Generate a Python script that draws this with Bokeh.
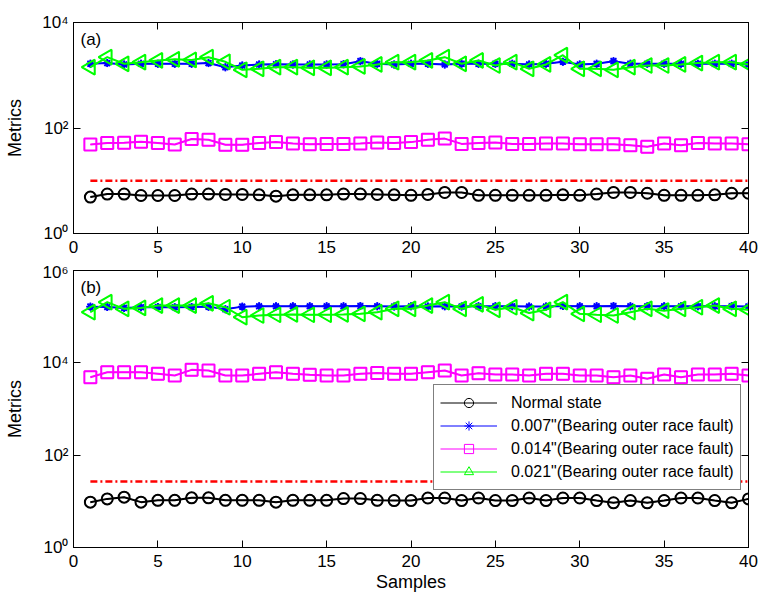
import numpy as np
from bokeh.plotting import figure
from bokeh.models import (FixedTicker, LinearAxis, LogAxis,
                          CustomJSTickFormatter, Legend, LegendItem, Label, Range1d)
from bokeh.layouts import column
from bokeh.embed import file_html
from bokeh.resources import INLINE

# ---------------- data ----------------
samples = list(range(1, 41))

normal_a = [4.9, 5.6, 5.6, 5.25, 5.25, 5.25, 5.6, 5.6, 5.5, 5.5,
            5.4, 5.1, 5.4, 5.4, 5.4, 5.6, 5.6, 5.5, 5.4, 5.3,
            5.5, 6.0, 6.0, 5.3, 5.3, 5.3, 5.3, 5.3, 5.4, 5.3,
            5.6, 6.0, 6.0, 5.8, 5.3, 5.3, 5.3, 5.4, 5.8, 5.8]
fault007_a = [1650, 1700, 1600, 1650, 1650, 1650, 1650, 1700, 1420, 1530,
              1600, 1620, 1600, 1600, 1600, 1620, 1850, 1650, 1600, 1650,
              1650, 1600, 1650, 1650, 1650, 1650, 1600, 1650, 1800, 1600,
              1650, 1850, 1650, 1650, 1650, 1650, 1650, 1650, 1650, 1600]
fault014_a = [48.6, 52, 52.6, 55, 52, 48.6, 62, 60, 48, 48,
              52, 54, 51, 49, 50, 50, 51, 53, 52, 54,
              60, 63, 50, 52, 53, 50, 50, 51, 51, 49,
              49, 49, 47, 44, 51, 47, 52, 51, 51, 49]
fault021_a = [1420, 2200, 1650, 1770, 1905, 2000, 1950, 2200, 1800, 1270,
              1325, 1420, 1420, 1380, 1380, 1420, 1470, 1600, 1770, 1770,
              1905, 2200, 1650, 1905, 1530, 1770, 1325, 1600, 2400, 1325,
              1325, 1270, 1420, 1530, 1530, 1600, 1700, 1770, 1770, 1600]

normal_b = [9.6, 11.3, 12.3, 9.6, 10.5, 10.5, 11.9, 11.9, 10.5, 10.5,
            10.5, 9.6, 10.5, 10.5, 10.5, 11.5, 11.5, 10.5, 10.4, 10.4,
            11.8, 11.8, 10.4, 11.8, 10.4, 10.4, 11.8, 10.4, 11.8, 11.8,
            10.4, 9.3, 10.4, 9.3, 10.4, 11.8, 11.8, 10.4, 9.3, 11.3]
fault007_b = [1.65e5, 1.62e5, 1.55e5, 1.60e5, 1.62e5, 1.60e5, 1.62e5, 1.65e5, 1.45e5, 1.65e5,
              1.68e5, 1.68e5, 1.68e5, 1.68e5, 1.68e5, 1.68e5, 1.70e5, 1.68e5, 1.66e5, 1.68e5,
              1.66e5, 1.68e5, 1.66e5, 1.68e5, 1.68e5, 1.68e5, 1.66e5, 1.66e5, 1.70e5, 1.68e5,
              1.68e5, 1.70e5, 1.68e5, 1.68e5, 1.68e5, 1.68e5, 1.68e5, 1.68e5, 1.68e5, 1.66e5]
fault014_b = [4890, 6270, 6270, 6270, 5770, 5310, 7050, 6800, 5310, 5310,
              5770, 6270, 5770, 5500, 5310, 5310, 5770, 6000, 5770, 5770,
              6270, 6800, 5310, 5980, 5610, 5610, 5310, 5770, 5770, 5310,
              5310, 4890, 5310, 4520, 5610, 4890, 5610, 5610, 5770, 5310]
fault021_b = [1.25e5, 2.06e5, 1.48e5, 1.55e5, 1.74e5, 1.74e5, 1.74e5, 1.95e5, 1.60e5, 0.975e5,
              1.06e5, 1.10e5, 1.12e5, 1.10e5, 1.10e5, 1.12e5, 1.15e5, 1.25e5, 1.48e5, 1.48e5,
              1.74e5, 2.06e5, 1.48e5, 1.85e5, 1.41e5, 1.60e5, 1.20e5, 1.41e5, 2.06e5, 1.15e5,
              1.10e5, 1.06e5, 1.25e5, 1.48e5, 1.35e5, 1.48e5, 1.60e5, 1.74e5, 1.48e5, 1.41e5]

thr_x = [1, 40]
thr_a = [10, 10]
thr_b = [27, 27]

x_ticks = [0, 5, 10, 15, 20, 25, 30, 35, 40]
y_ticks_a = [1, 100, 10000]
y_ticks_b = [1, 100, 10000, 1000000]
y_range_a = (1, 1e4)
y_range_b = (1, 1e6)

labels = ["Normal state",
          '0.007"(Bearing outer race fault)',
          '0.014"(Bearing outer race fault)',
          '0.021"(Bearing outer race fault)']

# ---------------- style ----------------
FONT = "Liberation Sans"
COLORS = ["black", "#0000ff", "#ff00ff", "#00ff00"]
MARKERS = ["circle", "asterisk", "square", "triangle"]
SIZES = [11, 8, 12, 15]
ANGLES = [0, 0, 0, np.pi / 2]

sup_js = """
const sup = {'0':'\u2070','1':'\u00b9','2':'\u00b2','3':'\u00b3','4':'\u2074','5':'\u2075','6':'\u2076','-':'\u207b'};
const e = Math.round(Math.log10(tick));
return '10' + String(e).split('').map(c => sup[c]).join('');
"""


def style_axis(ax, labels_visible=True):
    ax.axis_line_color = "black"
    ax.major_tick_line_color = "black"
    ax.major_tick_in = 7
    ax.major_tick_out = 0
    ax.minor_tick_line_color = None
    ax.major_label_text_font = FONT
    ax.major_label_text_color = "black"
    ax.major_label_text_font_size = "17px"
    if not labels_visible:
        ax.major_label_text_color = None
        ax.major_label_standoff = 0
        ax.major_label_text_font_size = "1px"


def make_panel(h, top, bottom, yr, yticks, series, thr, xlabel, with_legend):
    p = figure(width=761, height=h, x_range=Range1d(0, 40), y_range=Range1d(*yr),
               y_axis_type="log", output_backend="svg", toolbar_location=None,
               min_border_left=73, min_border_right=13, min_border_top=top,
               min_border_bottom=bottom)
    p.xgrid.visible = False
    p.ygrid.visible = False
    p.outline_line_color = "black"
    p.outline_line_alpha = 1
    p.background_fill_color = "white"
    p.border_fill_color = "white"

    xa = p.xaxis[0]
    xa.ticker = FixedTicker(ticks=x_ticks)
    style_axis(xa)
    xa.major_label_standoff = 7
    if xlabel:
        xa.axis_label = xlabel
        xa.axis_label_text_font = FONT
        xa.axis_label_text_font_size = "18px"
        xa.axis_label_text_font_style = "normal"
        xa.axis_label_text_color = "black"
        xa.axis_label_standoff = 2

    ya = p.yaxis[0]
    ya.ticker = FixedTicker(ticks=yticks)
    ya.formatter = CustomJSTickFormatter(code=sup_js)
    style_axis(ya)
    ya.major_label_standoff = 5
    ya.axis_label = "Metrics"
    ya.axis_label_text_font = FONT
    ya.axis_label_text_font_size = "18px"
    ya.axis_label_text_font_style = "normal"
    ya.axis_label_text_color = "black"
    ya.axis_label_standoff = 14

    top_ax = LinearAxis(ticker=FixedTicker(ticks=x_ticks))
    style_axis(top_ax, labels_visible=False)
    p.add_layout(top_ax, "above")
    right_ax = LogAxis(ticker=FixedTicker(ticks=yticks))
    style_axis(right_ax, labels_visible=False)
    p.add_layout(right_ax, "right")

    items = []
    for vals, c, m, s, ang, lab in zip(series, COLORS, MARKERS, SIZES, ANGLES, labels):
        # thin copies (hidden under the thick ones) used as legend samples
        r1 = p.line(samples, vals, line_color=c, line_width=1)
        r2 = p.scatter(samples, vals, marker=m, size=s, angle=ang, fill_color=None,
                       line_color=c, line_width=1)
        p.line(samples, vals, line_color=c, line_width=2)
        p.scatter(samples, vals, marker=m, size=s, angle=ang, fill_color=None,
                  line_color=c, line_width=2)
        items.append(LegendItem(label=lab, renderers=[r1, r2]))

    p.line(thr_x, thr, line_color="red", line_width=2.5, line_dash="7 3 2 3")

    if with_legend:
        legend = Legend(items=items, location=(360, 57), border_line_color="black",
                        border_line_width=1, background_fill_color="white",
                        background_fill_alpha=1, label_text_font=FONT,
                        label_text_font_size="16px", label_text_color="black",
                        glyph_width=57, glyph_height=23, spacing=0, padding=6,
                        label_standoff=14, margin=0)
        p.add_layout(legend)
    return p


pa = make_panel(262, 22, 29, y_range_a, y_ticks_a,
                [normal_a, fault007_a, fault014_a, fault021_a], thr_a, None, False)
pb = make_panel(337, 8, 52, y_range_b, y_ticks_b,
                [normal_b, fault007_b, fault014_b, fault021_b], thr_b, "Samples", True)

# panel tags
pa.add_layout(Label(x=7, y=204, x_units="screen", y_units="screen", text="(a)",
                    text_font=FONT, text_font_size="17px", text_color="black",
                    text_baseline="top"))
pb.add_layout(Label(x=7, y=270, x_units="screen", y_units="screen", text="(b)",
                    text_font=FONT, text_font_size="17px", text_color="black",
                    text_baseline="top"))

layout = column(pa, pb, spacing=0)
open("out.html", "w").write(file_html(layout, INLINE))
